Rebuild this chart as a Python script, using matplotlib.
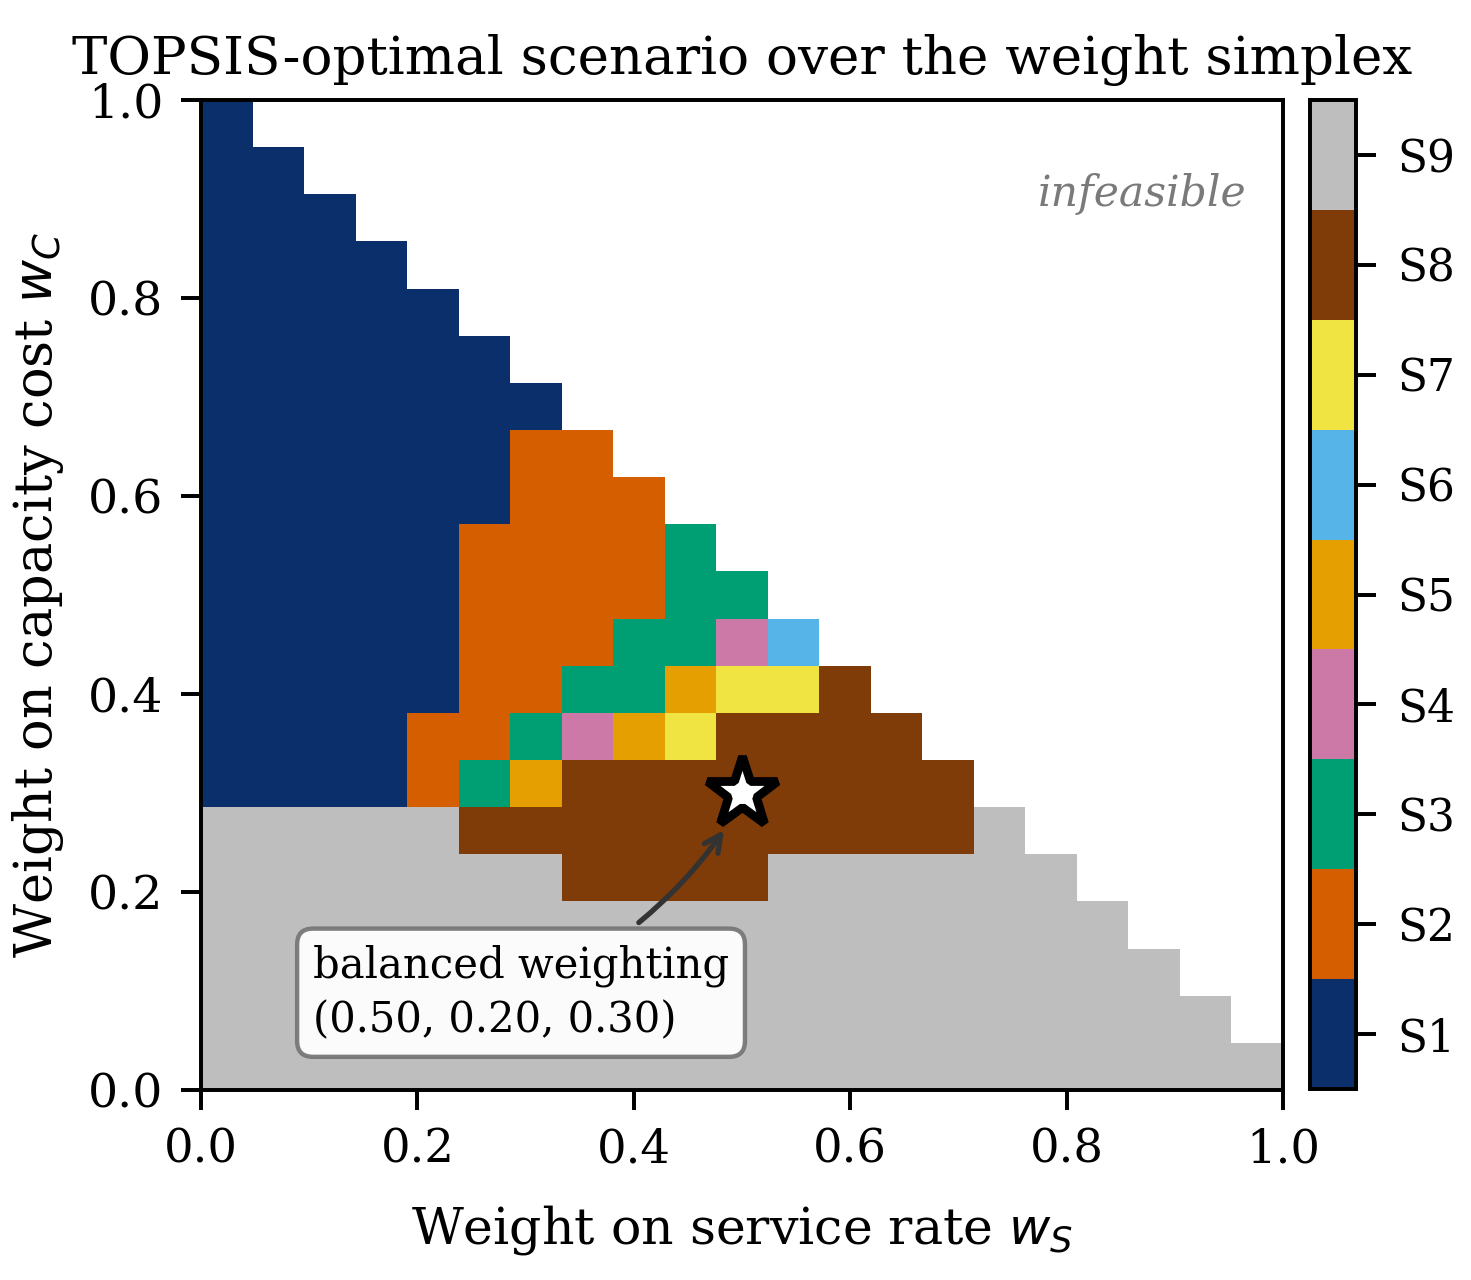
import numpy as np
import matplotlib
matplotlib.use("Agg")
import matplotlib.pyplot as plt
from matplotlib.colors import ListedColormap, BoundaryNorm

plt.rcParams['font.family'] = 'DejaVu Serif'
plt.rcParams['axes.linewidth'] = 0.9

scenarios = ["S1", "S2", "S3", "S4", "S5", "S6", "S7", "S8", "S9"]
colors = ["#0a2f6b", "#d55e00", "#009e73", "#cc79a7", "#e69f00",
          "#56b4e9", "#f0e442", "#7f3b08", "#bebebe"]

# TOPSIS winner per grid cell, rows from w_C = 1.0 (top) down to 0.0,
# columns w_S = 0.0, 0.05, ... ; cells with w_S + w_C > 1 are infeasible
winner_rows = [
    "1",
    "11",
    "111",
    "1111",
    "11111",
    "111111",
    "1111111",
    "11111122",
    "111111222",
    "1111122223",
    "11111222233",
    "111112223346",
    "1111122335778",
    "11112234578888",
    "111123588888888",
    "9999988888888889",
    "99999998888999999",
    "999999999999999999",
    "9999999999999999999",
    "99999999999999999999",
    "999999999999999999999",
]

balanced = (0.50, 0.20, 0.30)  # (w_S, w_E, w_C)

n = len(winner_rows)
grid = np.full((n, n), np.nan)
for r, row in enumerate(winner_rows):
    j = n - 1 - r
    for i, ch in enumerate(row):
        grid[j, i] = int(ch)
grid = np.ma.masked_invalid(grid)

cmap = ListedColormap(colors)
norm = BoundaryNorm(np.arange(0.5, 10.5, 1), cmap.N)

fig = plt.figure(figsize=(1471 / 316, 1280 / 316), dpi=316)
ax = fig.add_axes([201 / 1471, 1 - 1090 / 1280, 1082 / 1471, 990 / 1280])
cax = fig.add_axes([1310 / 1471, 1 - 1089 / 1280, 46 / 1471, 989 / 1280])

edges = np.linspace(0, 1, n + 1)
mesh = ax.pcolormesh(edges, edges, grid, cmap=cmap, norm=norm)

ax.set_xlim(0, 1)
ax.set_ylim(0, 1)
ax.set_xticks(np.arange(0, 1.01, 0.2))
ax.set_yticks(np.arange(0, 1.01, 0.2))
ax.tick_params(labelsize=10.6, length=4.5, width=0.9, pad=4)
ax.tick_params(axis="y", labelsize=10.8)
ax.set_xlabel("Weight on service rate $w_S$", fontsize=11.5, labelpad=7)
ax.set_ylabel("Weight on capacity cost $w_C$", fontsize=12, labelpad=5)
ax.set_title("TOPSIS-optimal scenario over the weight simplex", fontsize=12.1)

ax.text(0.87, 0.905, "infeasible", ha="center", va="center",
        fontsize=9.7, style="italic", color="#7a7a7a")

ax.plot(balanced[0], balanced[2], marker="*", markersize=17,
        markerfacecolor="white", markeredgecolor="black",
        markeredgewidth=2, zorder=5)
ax.annotate("balanced weighting\n(%.2f, %.2f, %.2f)" % balanced,
            xy=(balanced[0] - 0.012, balanced[2] - 0.03), xytext=(0.1035, 0.0495),
            fontsize=9.5, ha="left", va="bottom", linespacing=1.35,
            bbox=dict(boxstyle="round,pad=0.38", fc="white", ec="#777777", alpha=0.95),
            arrowprops=dict(arrowstyle="->", color="#333333", lw=1.2,
                            connectionstyle="arc3,rad=0.15"))

cb = fig.colorbar(mesh, cax=cax, ticks=range(1, 10))
cb.ax.set_yticklabels(scenarios)
cb.ax.minorticks_off()
cb.ax.tick_params(labelsize=10, length=4.5, width=0.9, pad=5)
cb.outline.set_linewidth(0.9)

fig.savefig("out.png", dpi=316)
